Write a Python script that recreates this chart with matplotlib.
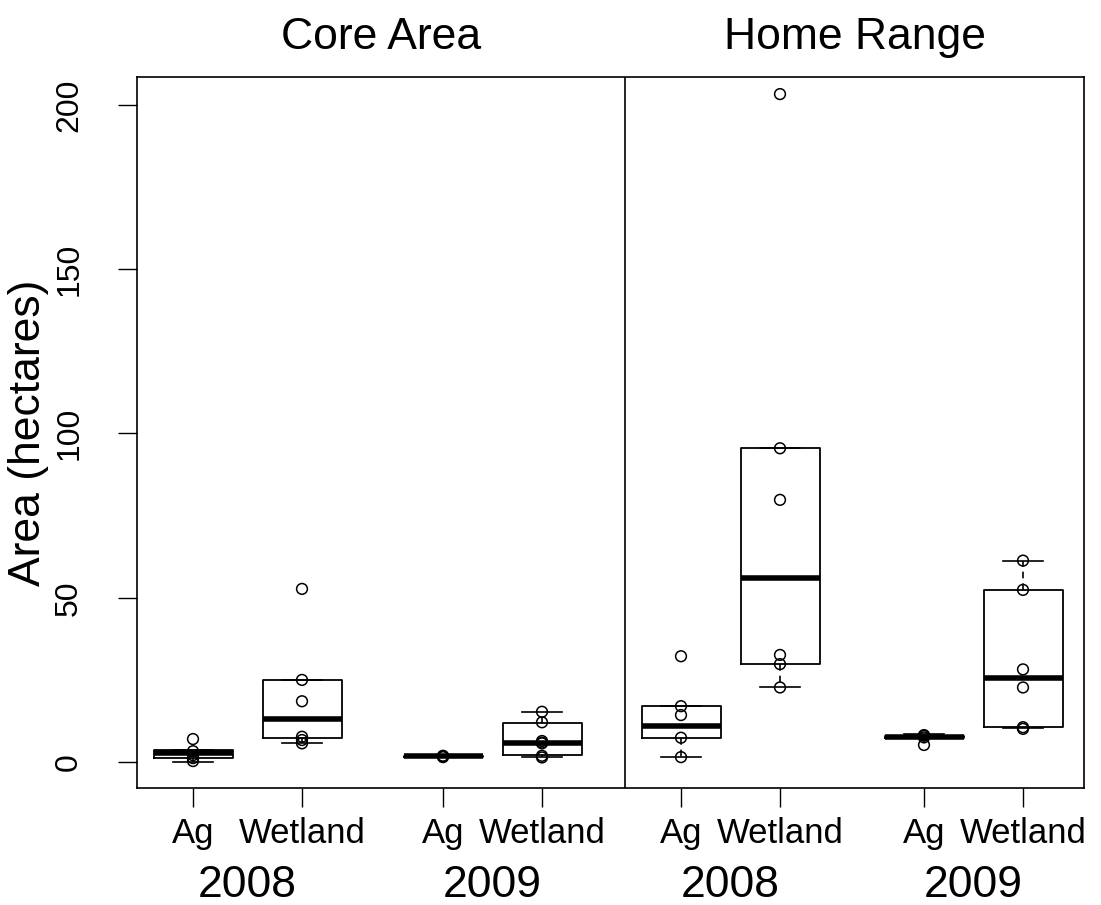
import numpy as np
import matplotlib
matplotlib.use("Agg")
import matplotlib.pyplot as plt

plt.rcParams['font.family'] = ['Liberation Sans', 'DejaVu Sans']

# groups in plotting order
panels = ["Core Area", "Home Range"]
years = ["2008", "2009", "2008", "2009"]
habitats = ["Ag", "Wetland", "Ag", "Wetland", "Ag", "Wetland", "Ag", "Wetland"]

# box statistics (hectares)
q1 = [1.3, 7.4, 1.6, 2.1, 7.4, 29.8, 7.2, 10.6]
med = [2.7, 13.1, 1.8, 5.7, 11.1, 55.9, 7.5, 25.5]
q3 = [3.6, 25.0, 1.9, 12.0, 17.0, 95.5, 7.8, 52.4]
whislo = [0.1, 5.7, 1.5, 1.4, 1.5, 22.7, 7.2, 10.3]
whishi = [3.6, 25.0, 2.1, 15.3, 17.0, 95.5, 8.5, 61.3]

# individual animals
points = [
    [0.3, 1.2, 2.1, 3.3, 7.0],
    [5.7, 6.7, 7.7, 18.5, 25.0, 52.7],
    [1.5, 1.8, 1.9],
    [1.4, 1.9, 5.7, 5.9, 6.4, 12.1, 15.3],
    [1.5, 7.4, 14.3, 17.0, 32.2],
    [22.7, 29.8, 32.6, 79.8, 95.5, 203.3],
    [5.2, 7.5, 8.0, 8.2],
    [10.1, 10.6, 22.7, 28.2, 52.4, 61.3],
]

pos = [193, 302, 443, 542, 681, 780, 924, 1023]

stats = []
for i in range(len(pos)):
    stats.append(dict(q1=q1[i], med=med[i], q3=q3[i],
                      whislo=whislo[i], whishi=whishi[i], fliers=[]))

fig = plt.figure(figsize=(11.01, 9.05), dpi=100)
ax = fig.add_axes([137/1101, 117/905, 947/1101, 711/905])

ax.bxp(stats, positions=pos, widths=79, showfliers=False,
       boxprops=dict(color='black', linewidth=1.3),
       medianprops=dict(color='black', linewidth=4),
       whiskerprops=dict(color='black', linewidth=1.2, linestyle=(0, (4, 3))),
       capprops=dict(color='black', linewidth=1.2),
       capwidths=40)

for p, vals in zip(pos, points):
    ax.scatter([p] * len(vals), vals, s=60, facecolors='none',
               edgecolors='black', linewidths=1.1, zorder=5)

ax.axvline(625, color='black', linewidth=1.2)

ax.set_xlim(137, 1084)
ax.set_ylim(-7.9, 208.5)

ax.set_yticks([0, 50, 100, 150, 200])
ax.set_yticklabels(["0", "50", "100", "150", "200"], rotation=90, va='center',
                   fontsize=23)
ax.set_xticks(pos)
ax.set_xticklabels(habitats, fontsize=25)
ax.tick_params(axis='both', length=14, width=1, color='black')
ax.tick_params(axis='x', pad=7)
ax.tick_params(axis='y', pad=24)
for s in ax.spines.values():
    s.set_linewidth(1.2)

ax.set_ylabel("Area (hectares)", fontsize=32, labelpad=4)

# year labels under each pair
for k, yr in enumerate(years):
    xc = (pos[2 * k] + pos[2 * k + 1]) / 2
    ax.text(xc, -0.137, yr, transform=ax.get_xaxis_transform(),
            ha='center', va='center', fontsize=32)

# panel titles
ax.text((137 + 625) / 2, 1.055, panels[0], transform=ax.get_xaxis_transform(),
        ha='center', va='center', fontsize=32)
ax.text((625 + 1084) / 2, 1.055, panels[1], transform=ax.get_xaxis_transform(),
        ha='center', va='center', fontsize=32)

fig.savefig("out.png", dpi=100)
